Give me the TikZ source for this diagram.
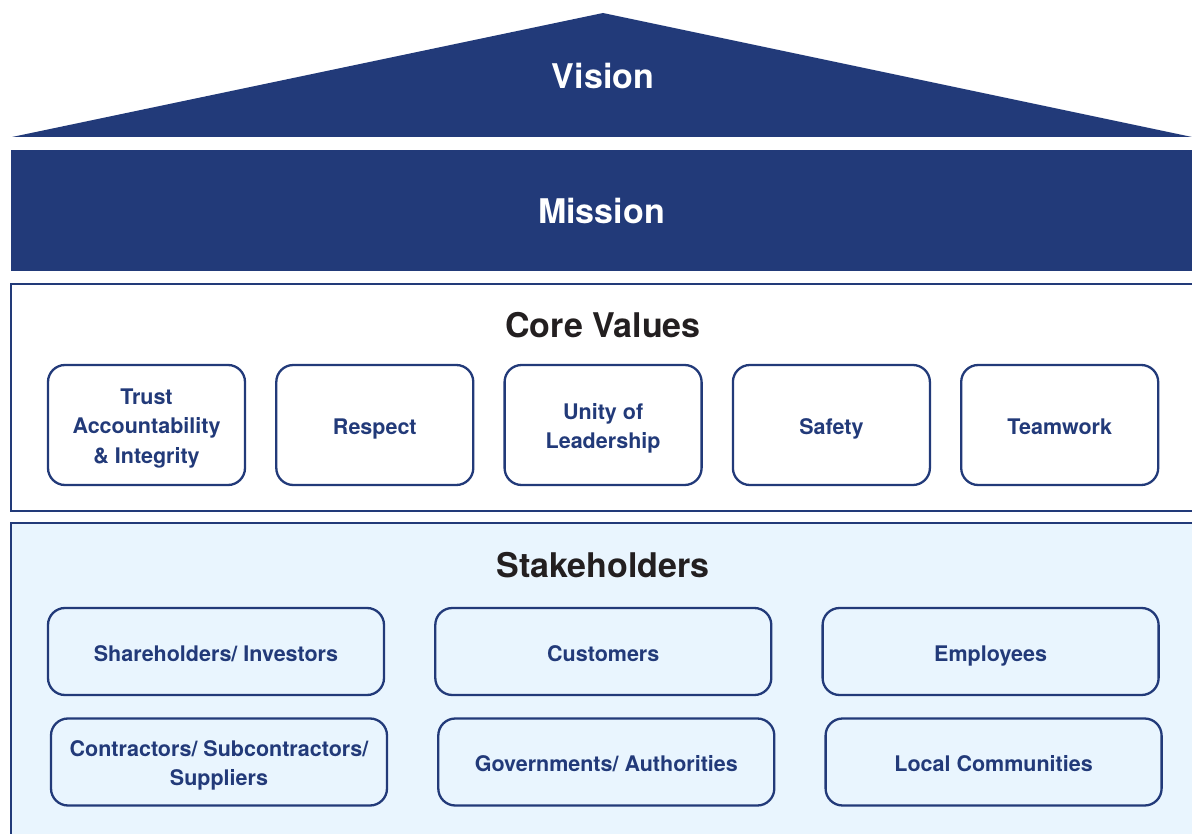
\documentclass[tikz,border=0pt]{standalone}
\usepackage{fontspec}
\setmainfont{TeX Gyre Heros}
\usepackage{xcolor}
\usepackage{tikz}
\usetikzlibrary{positioning}
\definecolor{navy}{RGB}{34,58,121}
\definecolor{paleblue}{RGB}{233,245,254}
\definecolor{inkblack}{RGB}{35,31,32}
\newcommand\boxstrut{\rule[-6pt]{0pt}{31pt}}
\newcommand\topstrut{\rule{0pt}{23.5pt}}

\begin{document}
\begin{tikzpicture}[x=1pt, y=-1pt, node distance=29pt,
        band/.style={fill=navy, draw=none, inner sep=0pt, text=white, font=\fontsize{34}{40}\selectfont\bfseries},
        frame/.style={draw=navy, line width=2.8pt},
        heading/.style={text=inkblack, font=\fontsize{34}{40}\selectfont\bfseries},
        value/.style={draw=navy, line width=2.3pt, rounded corners=17pt, minimum width=197pt, minimum height=120pt, align=center, text=navy, font=\fontsize{21.5}{29.5}\selectfont\bfseries, execute at begin node=\boxstrut, execute at end node=\boxstrut},
        holder/.style={value, fill=paleblue, minimum width=336pt, minimum height=87pt}
    ]
        \useasboundingbox (0,0) rectangle (1192,834);

        % Roof and mission band
        \fill[navy] (12,137) -- (603,13) -- (1192,137) -- cycle;
        \node [band] (vision) at (603,76) {Vision};
        \node [band, minimum width=1181pt, minimum height=121pt] (mission) at (601.5,210.5) {Mission};

        % Core values
        \draw [frame] (11,284) rectangle (1210,511);
        \node [heading] (core) at (603,325) {Core Values};
        \node [value] (trust) at (146.5,425) {\topstrut Trust\\Accountability\\\& Integrity};
        \node [value, right=of trust] (respect) {Respect};
        \node [value, right=of respect] (unity) {\topstrut Unity of\\Leadership};
        \node [value, right=of unity] (safety) {Safety};
        \node [value, right=of safety] (teamwork) {Teamwork};

        % Stakeholders
        \draw [frame, fill=paleblue] (11,523) rectangle (1210,850);
        \node [heading] (stake) at (603,565) {Stakeholders};
        \node [holder] (investors) at (216,651.5) {Shareholders/ Investors};
        \node [holder, right=49pt of investors] (customers) {Customers};
        \node [holder, right=49pt of customers] (employees) {Employees};
        \node [holder] (suppliers) at (219,762) {\topstrut Contractors/ Subcontractors/\\Suppliers};
        \node [holder, right=49pt of suppliers] (authorities) {Governments/ Authorities};
        \node [holder, right=49pt of authorities] (communities) {Local Communities};
    \end{tikzpicture}
\end{document}
